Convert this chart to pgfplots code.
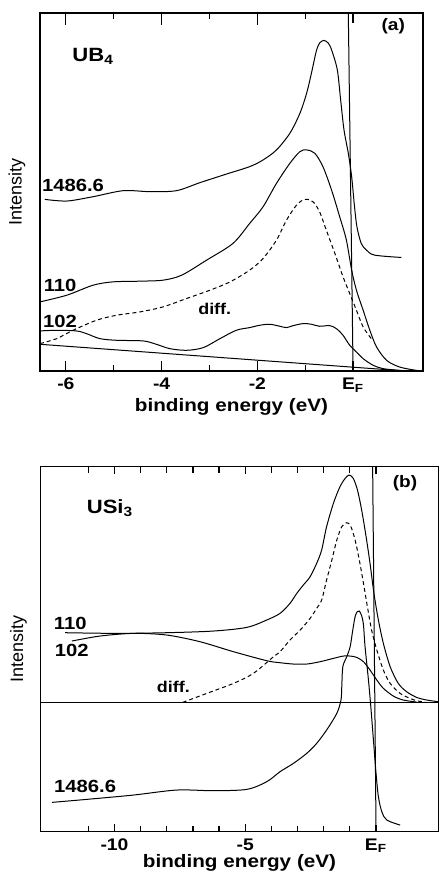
\documentclass[border=0pt]{standalone}
\usepackage{fontspec}
\setmainfont{Liberation Sans}
\newfontfamily\wide{Liberation Sans}[FakeStretch=1.15]
\usepackage{pgfplots}
\pgfplotsset{compat=1.18}

\pgfplotsset{
  spec/.style={
    scale only axis,
    axis line style={line width=0.6pt},
    tick align=inside,
    xtick pos=both,
    ytick=\empty,
    every tick/.style={black, line width=0.6pt},
    ymin=0,
    xticklabel style={font=\fontsize{8.4}{9}\wide\bfseries},
    xlabel style={font=\fontsize{9}{10}\wide\bfseries, anchor=center},
    ylabel style={font=\fontsize{9}{10}\selectfont, anchor=center},
    clip=false,
    cycle list={{black, solid, no markers}},
    every axis plot/.append style={black, line width=0.5pt},
  },
  curve/.style={black, no markers, smooth, tension=0.5},
  diffline/.style={black, no markers, smooth, tension=0.5, dash pattern=on 2pt off 1.5pt},
  straight/.style={black, no markers, solid},
}
\tikzset{
  lbl/.style={font=\fontsize{8.8}{10}\wide\bfseries},
  ttl/.style={font=\fontsize{9.6}{11}\wide\bfseries},
  pnl/.style={font=\fontsize{8.3}{10}\wide\bfseries},
  dlbl/.style={font=\fontsize{7.8}{9}\wide\bfseries},
  tk/.style={black, line width=0.6pt},
}

\begin{document}
\begin{tikzpicture}
\useasboundingbox (0,0) rectangle (219.5pt,-437.5pt);

% ---------- (a) UB4 ----------
\begin{axis}[spec,
  at={(20pt,-185.5pt)}, anchor=south west,
  width=191.5pt, height=179pt,
  xmin=-6.54, xmax=1.46, ymax=1072,
  major tick length=5pt, minor tick length=2.8pt,
  xtick={-6,-4,-2,0}, xticklabels={-6,-4,-2,E\textsubscript{F}},
  minor xtick={-5,-3,-1},
  xlabel={binding energy (eV)},
  xlabel style={at={(axis description cs:0.5,0)}, yshift=-18pt},
  ylabel={Intensity},
  ylabel style={at={(axis description cs:-0.06,0.5)}},
]
% 1486.6 eV
\addplot[curve] coordinates {(-6.44,514) (-5.98,509) (-5.43,522) (-4.80,540) (-4.24,537) (-3.69,540) (-3.20,564) (-2.64,590) (-2.16,612) (-1.88,632) (-1.60,662) (-1.32,712) (-1.11,772) (-0.97,832) (-0.87,892) (-0.77,957) (-0.70,982) (-0.61,990) (-0.52,982) (-0.45,962) (-0.33,902) (-0.26,812) (-0.19,722) (-0.10,652) (-0.03,582) (0.03,492) (0.08,432) (0.17,382) (0.28,362) (0.45,347) (1.01,340)};
% 110 eV
\addplot[curve] coordinates {(-6.54,207) (-5.98,227) (-5.43,257) (-5.01,267) (-4.45,269) (-3.97,272) (-3.58,287) (-3.06,332) (-2.51,382) (-2.16,442) (-1.88,492) (-1.60,562) (-1.32,622) (-1.11,657) (-0.97,662) (-0.80,652) (-0.63,612) (-0.45,542) (-0.28,462) (-0.14,392) (-0.03,302) (0.07,242) (0.21,182) (0.35,122) (0.49,72) (0.70,32) (0.97,12) (1.32,2) (1.46,1)};
% difference
\addplot[diffline] coordinates {(-6.54,82) (-6.19,97) (-5.85,122) (-5.36,152) (-4.94,167) (-4.45,177) (-3.97,192) (-3.48,217) (-2.99,242) (-2.57,267) (-2.16,302) (-1.88,337) (-1.60,392) (-1.39,452) (-1.18,497) (-1.01,514) (-0.84,507) (-0.70,477) (-0.56,422) (-0.38,352) (-0.21,282) (-0.07,232) (0.07,182) (0.21,132) (0.38,97)};
% 102 eV
\addplot[curve] coordinates {(-6.54,120) (-6.19,122) (-5.78,120) (-5.57,112) (-5.29,97) (-4.94,92) (-4.38,90) (-4.11,80) (-3.83,67) (-3.48,62) (-3.13,70) (-2.78,97) (-2.44,122) (-2.16,130) (-1.95,137) (-1.74,140) (-1.53,134) (-1.39,130) (-1.25,136) (-1.04,142) (-0.87,140) (-0.70,134) (-0.49,136) (-0.35,127) (-0.21,107) (-0.07,77) (0.07,57) (0.21,37) (0.42,17) (0.63,7) (0.97,2) (1.2,0)};
% background
\addplot[straight] coordinates {(-6.54,80) (0.9,2) (1.2,0)};
% Fermi level
\addplot[straight] coordinates {(0,0) (-0.10,1072)};
% tick marks, bottom and top
\draw[tk] (axis cs:-6,0) -- (axis cs:-6,30);
\draw[tk] (axis cs:-4,0) -- (axis cs:-4,30);
\draw[tk] (axis cs:-2,0) -- (axis cs:-2,30);
\draw[tk] (axis cs:-5,0) -- (axis cs:-5,17);
\draw[tk] (axis cs:-3,0) -- (axis cs:-3,17);
\draw[tk] (axis cs:-1,0) -- (axis cs:-1,17);
\draw[tk] (axis cs:-6,1072) -- (axis cs:-6,1037);
\draw[tk] (axis cs:-4,1072) -- (axis cs:-4,1037);
\draw[tk] (axis cs:-2,1072) -- (axis cs:-2,1037);
\draw[tk] (axis cs:-5,1072) -- (axis cs:-5,1055);
\draw[tk] (axis cs:-3,1072) -- (axis cs:-3,1055);
\draw[tk] (axis cs:-1,1072) -- (axis cs:-1,1055);
\node[ttl] at (axis cs:-5.43,942) {UB\textsubscript{4}};
\node[pnl] at (axis cs:0.84,1032) {(a)};
\node[lbl] at (axis cs:-5.85,556) {1486.6};
\node[lbl] at (axis cs:-6.12,257) {110};
\node[lbl] at (axis cs:-6.12,147) {102};
\node[dlbl] at (axis cs:-2.89,187) {diff.};
\end{axis}

% ---------- (b) USi3 ----------
\begin{axis}[spec,
  at={(20.35pt,-415.85pt)}, anchor=south west,
  width=198.8pt, height=182.5pt,
  xmin=-12.82, xmax=2.38, ymax=1095,
  major tick length=3.5pt, minor tick length=3pt,
  xtick={-10,-5,0}, xticklabels={-10,-5,E\textsubscript{F}},
  minor xtick={-11,-9,-8,-7,-6,-4,-3,-2,-1},
  xlabel={binding energy (eV)},
  xlabel style={at={(axis description cs:0.5,0)}, yshift=-15.5pt},
  ylabel={Intensity},
  ylabel style={at={(axis description cs:-0.056,0.5)}},
]
% baseline
\addplot[straight] coordinates {(-12.82,388) (2.38,388)};
% 110 eV
\addplot[curve] coordinates {(-11.89,597) (-9.91,595) (-8.0,597) (-6.22,602) (-4.94,613) (-4.18,635) (-3.67,655) (-3.29,685) (-3.03,715) (-2.78,740) (-2.52,765) (-2.27,805) (-2.08,845) (-1.89,915) (-1.63,985) (-1.38,1035) (-1.18,1060) (-1.03,1070) (-0.87,1060) (-0.71,1025) (-0.55,965) (-0.38,885) (-0.23,805) (-0.08,715) (0.09,635) (0.28,565) (0.54,495) (0.85,445) (1.17,420) (1.55,403) (1.94,395) (2.38,390)};
% difference
\addplot[diffline] coordinates {(-7.39,388) (-6.47,415) (-5.45,445) (-4.69,475) (-3.92,525) (-3.67,540) (-3.29,575) (-2.90,605) (-2.52,640) (-2.27,670) (-2.08,695) (-1.89,755) (-1.69,815) (-1.50,875) (-1.31,915) (-1.12,927) (-0.97,917) (-0.80,875) (-0.64,815) (-0.48,745) (-0.33,675) (-0.17,605) (0.03,545) (0.28,485) (0.54,445) (0.92,415) (1.30,400) (1.55,393) (1.9,388)};
% 102 eV
\addplot[curve] coordinates {(-11.63,572) (-10.55,587) (-9.27,595) (-8.0,590) (-6.73,570) (-5.45,540) (-4.18,513) (-3.67,507) (-3.16,503) (-2.65,503) (-2.14,510) (-1.63,520) (-1.25,527) (-0.99,527) (-0.74,523) (-0.48,510) (-0.23,485) (0.03,455) (0.28,430) (0.66,407) (1.04,395) (1.55,389)};
% 1486.6 eV
\addplot[curve] coordinates {(-12.39,88) (-11.06,97) (-9.27,110) (-7.62,125) (-6.22,123) (-4.94,127) (-4.18,150) (-3.67,180) (-3.16,205) (-2.65,235) (-2.27,265) (-1.89,305) (-1.50,355) (-1.34,395) (-1.31,435) (-1.27,495) (-1.12,525) (-0.99,555) (-0.89,605) (-0.80,645) (-0.72,660) (-0.64,662) (-0.55,648) (-0.48,620) (-0.42,555) (-0.29,455) (-0.20,375) (-0.10,275) (0,175) (0.09,105) (0.22,60) (0.41,35) (0.92,20)};
% Fermi level
\addplot[straight] coordinates {(0,0) (-0.13,1095)};
% tick marks, bottom and top
\draw[tk] (axis cs:-11,0) -- (axis cs:-11,18);
\draw[tk] (axis cs:-10,0) -- (axis cs:-10,22);
\draw[tk] (axis cs:-9,0) -- (axis cs:-9,18);
\draw[tk] (axis cs:-8,0) -- (axis cs:-8,18);
\draw[tk] (axis cs:-7,0) -- (axis cs:-7,18);
\draw[tk] (axis cs:-6,0) -- (axis cs:-6,18);
\draw[tk] (axis cs:-5,0) -- (axis cs:-5,22);
\draw[tk] (axis cs:-4,0) -- (axis cs:-4,18);
\draw[tk] (axis cs:-3,0) -- (axis cs:-3,18);
\draw[tk] (axis cs:-2,0) -- (axis cs:-2,18);
\draw[tk] (axis cs:-1,0) -- (axis cs:-1,18);
\draw[tk] (axis cs:-11,1095) -- (axis cs:-11,1077);
\draw[tk] (axis cs:-10,1095) -- (axis cs:-10,1073);
\draw[tk] (axis cs:-9,1095) -- (axis cs:-9,1077);
\draw[tk] (axis cs:-8,1095) -- (axis cs:-8,1077);
\draw[tk] (axis cs:-7,1095) -- (axis cs:-7,1077);
\draw[tk] (axis cs:-6,1095) -- (axis cs:-6,1077);
\draw[tk] (axis cs:-5,1095) -- (axis cs:-5,1073);
\draw[tk] (axis cs:-4,1095) -- (axis cs:-4,1077);
\draw[tk] (axis cs:-3,1095) -- (axis cs:-3,1077);
\draw[tk] (axis cs:-2,1095) -- (axis cs:-2,1077);
\draw[tk] (axis cs:-1,1095) -- (axis cs:-1,1077);
\node[ttl] at (axis cs:-10.17,970) {USi\textsubscript{3}};
\node[pnl] at (axis cs:1.11,1045) {(b)};
\node[lbl] at (axis cs:-11.69,625) {110};
\node[lbl] at (axis cs:-11.63,543) {102};
\node[dlbl] at (axis cs:-7.75,435) {diff.};
\node[lbl] at (axis cs:-11.12,137) {1486.6};
\end{axis}
\end{tikzpicture}
\end{document}
